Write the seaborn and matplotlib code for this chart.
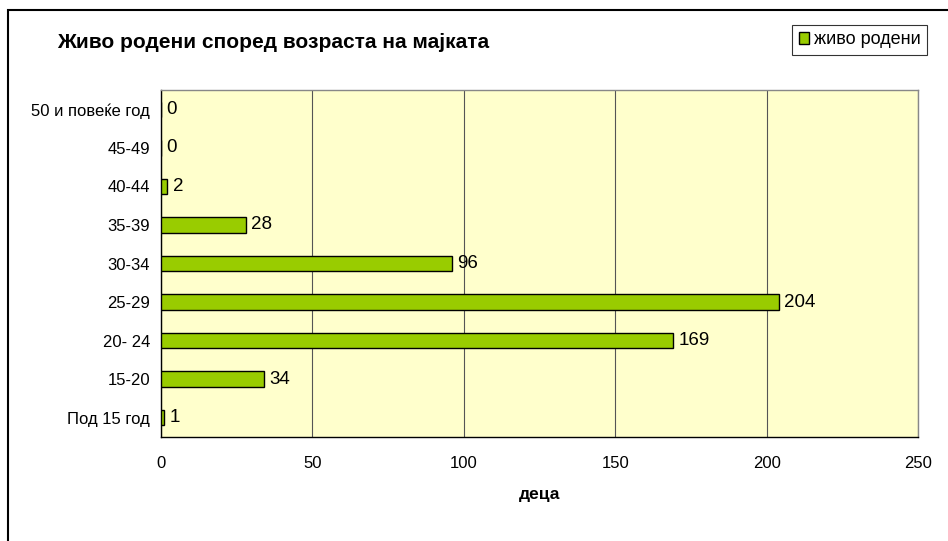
import matplotlib
matplotlib.use("Agg")
import matplotlib.pyplot as plt
import seaborn as sns
import pandas as pd
from matplotlib.patches import Rectangle, Patch

categories = ["50 и повеќе год", "45-49", "40-44", "35-39", "30-34", "25-29", "20- 24", "15-20", "Под 15 год"]
values = [0, 0, 2, 28, 96, 204, 169, 34, 1]
series_name = "живо родени"
title = "Живо родени според возраста на мајката"
xlabel = "деца"
xticks = [0, 50, 100, 150, 200, 250]

sns.set_theme(style="white")
plt.rcParams['font.family'] = ['Liberation Sans', 'DejaVu Sans']
plt.rcParams['text.color'] = 'black'
plt.rcParams['xtick.color'] = 'black'
plt.rcParams['ytick.color'] = 'black'
plt.rcParams['axes.labelcolor'] = 'black'

df = pd.DataFrame({"cat": categories, "val": values})

fig = plt.figure(figsize=(9.48, 5.41), dpi=100)
W, H = 948, 541
ax = fig.add_axes([161 / W, 1 - 437 / H, (918 - 161) / W, (437 - 90) / H])

# outer chart border
fig.patches.append(Rectangle((8 / W, -0.05), 1.1, 1 - 10 / H + 0.05, transform=fig.transFigure,
                             fill=False, edgecolor="black", linewidth=1.5, zorder=0))

ax.set_facecolor("#FFFFCC")
sns.barplot(data=df, y="cat", x="val", order=categories, orient="h", color="#99CC00",
            edgecolor="black", linewidth=1, width=0.4, saturation=1, ax=ax, zorder=3)

ax.set_xlim(0, 250)
ax.set_ylim(len(categories) - 0.5, -0.5)
ax.set_xticks(xticks)
ax.set_xticklabels([str(t) for t in xticks], fontsize=12)
ax.xaxis.grid(True, color="#555555", linewidth=0.8, zorder=0)
ax.set_axisbelow(True)
ax.tick_params(axis="x", direction="out", length=5, width=1, color="black", pad=9)
ax.tick_params(axis="y", which="major", length=0, pad=8, labelsize=12)
ax.set_yticks([i + 0.5 for i in range(-1, len(categories))], minor=True)
ax.tick_params(axis="y", which="minor", direction="out", length=5, width=1, color="black")
ax.set_ylabel("")
ax.set_xlabel(xlabel, fontsize=12.5, fontweight="bold", labelpad=11)

for s in ["left", "bottom"]:
    ax.spines[s].set_color("black")
    ax.spines[s].set_linewidth(1)
for s in ["top", "right"]:
    ax.spines[s].set_color("#888888")
    ax.spines[s].set_linewidth(1)

for c in ax.containers:
    ax.bar_label(c, labels=[str(v) for v in values], padding=4, fontsize=13.5)

fig.text(57 / W, 1 - 43 / H, title, fontsize=15, fontweight="bold", va="center", ha="left")

handle = Patch(facecolor="#99CC00", edgecolor="black", linewidth=1)
leg = fig.legend(handles=[handle], labels=[series_name], loc="upper right",
                 bbox_to_anchor=(927 / W, 1 - 25 / H), fontsize=13, frameon=True,
                 fancybox=False, edgecolor="black", handlelength=0.6, handleheight=0.6,
                 handletextpad=0.25, borderpad=0.35, borderaxespad=0)
leg.get_frame().set_linewidth(0.8)

fig.savefig("out.png", dpi=100, facecolor="white")
